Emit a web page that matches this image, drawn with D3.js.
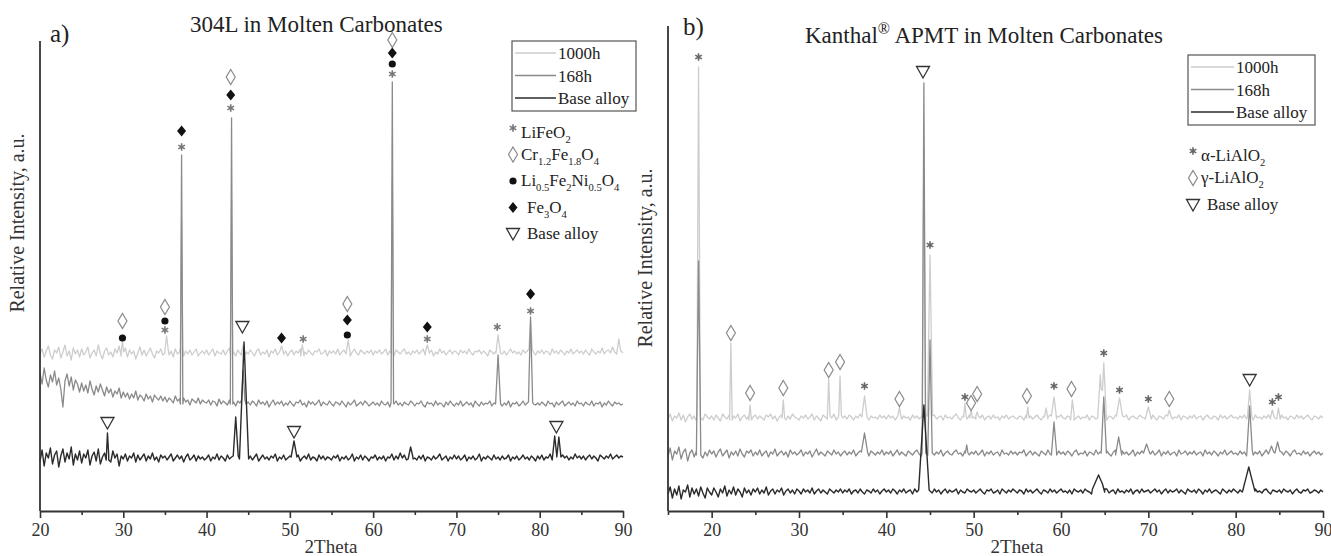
<!DOCTYPE html>
<html><head><meta charset="utf-8">
<script src="https://cdn.jsdelivr.net/npm/d3@7"></script>
<style>body{margin:0;background:#fff}svg{display:block;font-family:"Liberation Serif","Times New Roman",serif}svg text{font-family:"Liberation Serif","Times New Roman",serif !important;fill:#222}</style>
</head><body><svg id="c" width="1331" height="556"></svg>
<script>
// ---------- DATA ----------
const seriesNames = ["1000h", "168h", "Base alloy"];
const xTicksLeft = [20, 30, 40, 50, 60, 70, 80, 90];
const xTicksRight = [20, 30, 40, 50, 60, 70, 80, 90];
const minorLeft = [25, 35, 45, 55, 65, 75, 85];
const minorRight = [15, 25, 35, 45, 55, 65, 75, 85];
const STEP = 0.25;

// baseline readings every 0.25 deg (left: 20..90)
const left1000Base = [157,162,154,160,165,156,152,161,158,164,153,159,166,155,160,151,163,157,161,154,
162,156,159,164,153,158,161,155,166,157,152,160,163,156,159,154,162,158,165,155,
159,163,154,161,157,160,152,158,164,156,161,155,159,163,157,153,160,158,162,156,
158,161,156,160,154,162,157,159,163,155,160,157,161,156,159,162,155,158,160,157,
161,156,159,162,155,160,158,157,161,156,160,163,157,159,155,161,158,160,156,159,
157,161,158,155,160,162,156,159,157,161,154,160,158,162,156,159,161,157,160,155,
159,161,156,160,158,162,155,159,157,161,158,156,160,159,162,157,158,161,155,160,
158,160,157,162,156,159,161,157,160,155,159,162,158,156,161,159,157,160,158,161,
156,160,158,161,157,159,162,156,160,158,155,161,159,157,160,162,157,159,156,160,
158,161,157,159,162,156,160,158,161,155,159,157,162,158,160,156,159,161,157,160,
159,156,161,158,160,157,162,158,156,160,159,161,157,160,158,155,161,159,157,160,
158,161,157,160,156,159,162,158,160,157,159,156,161,158,160,157,162,159,156,160,
158,161,157,160,159,156,162,158,160,157,161,159,156,160,158,162,157,159,161,158,
160,157,161,158,156,162,159,157,160,158,163,157,160,161,158,164,159,157,161,160,158];
const left168Base = [138,127,143,131,124,136,129,140,126,133,122,104,130,137,125,134,121,131,127,119,
128,120,126,118,130,122,116,125,119,127,121,115,124,118,122,114,120,117,123,113,
119,114,118,112,117,113,120,111,116,114,110,117,112,115,109,116,113,111,115,110,
114,109,113,111,108,115,110,112,107,113,109,111,106,112,110,108,113,107,111,109,
108,111,106,110,109,105,112,107,110,108,106,111,107,109,105,110,108,106,111,107,
109,106,110,108,105,111,107,109,106,110,104,108,111,106,109,107,110,105,108,106,
110,107,105,109,108,111,106,108,104,110,107,109,106,108,111,105,109,107,106,110,
107,105,109,108,106,110,107,104,109,106,108,111,105,107,109,106,110,108,105,107,
109,106,108,105,110,107,106,109,104,108,107,110,106,108,105,109,107,106,110,108,
105,108,107,110,106,104,109,107,108,105,110,106,108,107,104,109,106,110,107,105,
108,106,110,105,107,109,106,108,104,110,107,105,109,106,108,107,110,105,108,106,
107,109,105,108,106,110,104,108,107,109,105,107,110,106,108,105,109,107,106,108,
106,109,107,105,110,107,108,104,109,106,108,110,105,107,109,106,108,105,110,107,
108,105,109,107,106,110,105,108,107,109,104,108,106,110,107,105,109,107,108,106,107];
const leftAlloyBase = [50,61,45,58,53,63,47,56,60,44,55,62,49,58,52,64,46,57,51,60,
48,57,53,61,46,55,59,50,62,47,54,58,51,56,49,60,53,57,45,55,
52,57,50,55,53,58,49,56,51,54,57,50,55,52,58,51,54,49,56,53,
55,51,54,57,50,53,56,52,55,49,54,57,51,53,56,50,55,52,54,51,
53,56,50,54,52,57,51,55,53,50,56,52,54,51,55,53,50,56,52,54,
52,55,51,54,57,50,53,56,52,54,51,55,53,57,50,54,52,56,51,53,
55,51,54,52,56,50,53,55,52,57,51,54,53,50,56,52,55,51,54,53,
51,55,53,56,50,54,52,55,51,53,57,50,54,52,56,51,55,53,50,54,
53,56,51,54,52,55,50,54,53,57,51,55,52,58,53,56,51,54,52,55,
53,51,55,52,56,50,54,53,51,55,52,54,57,51,53,55,50,54,52,56,
52,55,51,53,56,50,54,52,55,51,53,57,50,54,52,55,53,51,56,52,
54,51,55,52,53,56,50,54,52,55,51,53,56,52,54,51,55,53,50,55,
52,56,51,54,53,57,51,55,52,54,50,56,53,55,51,54,52,57,53,55,
52,55,51,54,56,52,55,53,50,56,54,52,55,53,57,52,54,56,53,55,54];

// peaks: [2theta, top intensity, half width]
const left1000Peaks = [[29.9,170,0.15],[35.2,175,0.2],[37.0,291,0.15],[43.0,311,0.15],[44.4,166,0.2],[49.0,165,0.15],[51.5,166,0.2],[57.0,171,0.2],[62.3,331,0.15],[66.5,166,0.2],[75.0,176,0.25],[78.9,191,0.2],[89.5,172,0.2]];
const left168Peaks = [[37.0,356,0.15],[43.0,393,0.15],[44.4,141,0.2],[62.3,429,0.15],[75.0,156,0.3],[78.9,194,0.25]];
const leftAlloyPeaks = [[28.1,78,0.15],[43.5,94,0.3],[44.5,169,0.55],[50.5,70,0.35],[64.5,64,0.3],[81.8,75,0.25],[82.3,74,0.25]];

// baseline readings every 0.25 deg (right: 15..90)
const right1000Base = [92,97,90,95,93,98,91,96,89,94,97,92,95,90,96,93,91,97,94,92,
95,91,96,93,90,97,94,92,96,91,95,93,97,90,94,96,92,95,91,94,
96,92,95,93,91,96,94,97,92,95,90,94,96,93,91,95,92,97,94,93,
91,95,93,96,92,94,97,91,95,93,90,96,94,92,95,93,97,91,94,96,
93,95,92,96,94,91,95,93,97,92,94,96,91,95,93,94,92,96,93,95,
92,96,93,95,91,94,96,92,95,93,94,91,96,93,95,92,94,96,93,91,
95,93,96,92,94,95,91,96,93,94,92,95,97,93,91,95,94,92,96,93,
94,92,95,93,96,91,94,95,92,96,93,94,91,95,93,96,92,94,95,93,
92,95,94,91,96,93,95,92,94,96,93,91,95,94,92,96,93,95,92,94,
96,93,92,95,94,91,96,93,95,92,94,93,96,91,95,94,92,95,93,96,
93,91,95,94,92,96,93,95,92,94,96,91,94,95,93,92,96,94,93,95,
92,94,96,93,91,95,94,92,96,93,95,92,94,93,96,91,95,94,92,95,
93,96,92,94,95,91,94,96,93,92,95,94,91,96,93,95,92,94,96,93,
94,92,95,93,96,92,94,95,91,96,93,94,92,95,93,96,92,94,93,95,
92,96,93,94,91,95,94,92,96,93,95,92,94,96,93,91,95,94,92,95,93];
const right168Base = [55,63,51,60,57,64,52,59,62,50,58,61,54,60,56,63,53,59,55,61,
57,60,54,59,62,55,58,61,53,59,56,60,55,62,57,54,60,58,61,55,
59,56,61,55,58,60,54,59,57,62,55,58,60,56,59,54,61,57,59,56,
58,61,55,59,57,60,54,58,62,56,59,57,55,60,58,56,61,57,59,55,
58,60,56,59,57,61,55,58,60,56,59,57,55,60,58,56,59,57,61,56,
59,57,60,55,58,61,56,59,57,55,60,58,56,59,61,57,55,58,60,56,
58,60,56,59,57,61,55,58,60,57,56,59,61,57,58,55,60,58,56,59,
57,60,56,58,61,55,59,57,60,56,58,59,55,61,57,58,56,60,57,59,
56,59,58,61,55,58,60,56,59,57,55,60,58,56,61,57,59,56,58,60,
57,59,56,60,58,55,59,61,56,58,57,60,55,59,58,56,61,57,59,56,
58,60,57,55,59,61,56,58,60,57,59,56,58,61,55,59,57,60,56,58,
59,57,60,56,58,61,55,59,57,60,56,58,59,55,61,57,58,60,56,59,
57,60,56,58,59,55,61,57,59,56,60,58,55,59,57,61,56,58,60,57,
58,56,60,57,59,55,61,58,56,59,57,60,55,58,61,57,59,56,58,60,
57,59,56,60,58,55,59,61,57,58,56,60,57,59,55,58,60,57,59,56,58];
const rightAlloyBase = [17,24,13,22,16,25,12,21,19,26,14,23,17,22,15,24,18,13,23,19,
16,23,19,14,22,18,25,15,21,17,24,16,22,19,14,23,18,21,16,22,
19,23,17,21,18,24,16,20,22,17,21,19,23,16,20,22,18,21,17,22,
20,17,22,19,21,18,23,17,20,22,18,21,19,17,22,20,18,21,19,22,
18,21,19,22,17,20,21,18,22,19,17,21,20,18,22,19,21,17,20,22,
19,21,18,22,20,17,21,19,22,18,20,21,17,22,19,20,18,21,19,22,
20,18,22,19,21,17,20,22,18,21,19,20,22,17,21,19,18,22,20,19,
21,18,20,22,19,17,21,20,22,18,19,21,17,22,20,18,21,19,22,20,
18,21,20,17,22,19,21,18,20,22,19,17,21,20,18,22,19,21,18,20,
22,19,20,18,21,17,22,20,19,21,18,22,20,19,17,21,20,22,18,21,
19,22,18,20,21,17,22,19,20,18,21,19,22,17,20,21,18,22,19,20,
21,18,20,22,19,21,17,20,22,18,21,19,20,22,18,21,19,17,22,20,
19,21,18,22,20,17,21,19,22,18,20,21,19,17,22,20,18,21,19,22,
20,18,21,19,22,17,20,21,18,22,19,20,18,21,22,19,17,21,20,19,
21,18,22,20,19,21,17,20,22,19,18,21,20,22,18,19,21,20,18,21,19];

const right1000Peaks = [[18.5,444,0.2],[22.2,168,0.15],[24.4,106,0.15],[28.2,111,0.15],[33.4,132,0.15],[34.7,135,0.15],[37.5,115,0.3],[41.5,104,0.15],[44.3,361,0.2],[45.0,256,0.3],[49.0,108,0.15],[49.7,101,0.15],[50.4,99,0.15],[56.2,104,0.15],[58.3,103,0.2],[59.2,114,0.3],[61.3,111,0.2],[64.5,136,0.3],[64.9,148,0.3],[66.7,113,0.35],[70.0,104,0.35],[72.4,101,0.2],[81.6,121,0.25],[84.2,101,0.2],[84.9,103,0.2]];
const right168Peaks = [[18.5,250,0.25],[37.5,78,0.35],[44.3,428,0.2],[45.0,171,0.25],[49.2,66,0.15],[59.2,89,0.3],[64.9,114,0.3],[66.6,74,0.35],[69.8,67,0.35],[81.6,105,0.3],[84.1,65,0.25],[84.8,69,0.25]];
const rightAlloyPeaks = [[44.3,106,0.6],[64.3,36,0.7],[81.5,44,0.7]];

// phase markers: [2theta, intensity, type]
const leftMarkers = [[29.9,190,"dia"],[29.9,173,"dot"],[35.0,204,"dia"],[35.0,190,"dot"],[35.0,181,"ast"],
[37.0,380,"fdia"],[37.0,364,"ast"],[42.9,434,"dia"],[42.9,416,"fdia"],[42.9,403,"ast"],[44.3,184,"tri"],
[49.0,173,"fdia"],[51.6,172,"ast"],[56.9,207,"dia"],[56.9,191,"fdia"],[56.9,176,"dot"],
[62.3,471,"dia"],[62.3,458,"fdia"],[62.3,447,"dot"],[62.3,437,"ast"],[66.5,184,"fdia"],[66.5,172,"ast"],
[74.9,184,"ast"],[78.9,217,"fdia"],[78.9,200,"ast"],[28.1,88,"tri"],[50.5,79,"tri"],[82.0,84,"tri"]];
const rightMarkers = [[18.5,454,"ast"],[22.2,178,"dia"],[24.4,118,"dia"],[28.2,123,"dia"],[33.4,141,"dia"],[34.7,149,"dia"],
[37.5,125,"ast"],[41.5,112,"dia"],[44.2,439,"tri"],[45.0,266,"ast"],[49.0,114,"ast"],[49.7,108,"dia"],[50.4,117,"dia"],
[56.1,115,"dia"],[59.2,125,"ast"],[61.2,122,"dia"],[64.9,158,"ast"],[66.7,121,"ast"],[70.0,112,"ast"],[72.4,112,"dia"],
[81.6,131,"tri"],[84.2,109,"ast"],[84.9,114,"ast"]];

const leftPhaseLegend = [["ast", [["LiFeO","n"],["2","sub"]]],["dia",[["Cr","n"],["1.2","sub"],["Fe","n"],["1.8","sub"],["O","n"],["4","sub"]]],
["dot",[["Li","n"],["0.5","sub"],["Fe","n"],["2","sub"],["Ni","n"],["0.5","sub"],["O","n"],["4","sub"]]],
["fdia",[["Fe","n"],["3","sub"],["O","n"],["4","sub"]]],["tri",[["Base alloy","n"]]]];
const rightPhaseLegend = [["ast",[["α-LiAlO","n"],["2","sub"]]],["dia",[["γ-LiAlO","n"],["2","sub"]]],["tri",[["Base alloy","n"]]]];

// ---------- DRAW ----------
const FONT = '"Liberation Serif","Times New Roman",serif';
const svg = d3.select("#c");
const colors = ["#cdcdcd", "#8a8a8a", "#2b2b2b"];

function buildSeries(start, base, peaks) {
  const pts = base.map((v, i) => [start + i * STEP, v]);
  const footOf = p => base[Math.max(0, Math.min(base.length - 1, Math.round((p[0] - start) / STEP)))];
  peaks.forEach(p => {
    const f = footOf(p);
    pts.push([p[0] - p[2], f], [p[0], p[1]], [p[0] + p[2], f]);
  });
  pts.sort((a, b) => a[0] - b[0]);
  return pts.map(([x, v]) => {
    let y = v;
    peaks.forEach(p => {
      const d = Math.abs(x - p[0]);
      if (d < p[2] - 1e-9) { const f = footOf(p); y = Math.max(y, f + (p[1] - f) * (1 - d / p[2])); }
      else if (d < 1e-9) y = Math.max(y, p[1]);
    });
    return [x, y];
  });
}

function txt(g) { return g.append("text").style("font-family", FONT); }

function richText(g, x, y, segs, size) {
  const t = txt(g).attr("x", x).attr("y", y).attr("font-size", size);
  let shift = 0;
  segs.forEach(([s, k]) => {
    const target = k === "sub" ? size * 0.3 : k === "sup" ? -size * 0.4 : 0;
    t.append("tspan").attr("dy", target - shift).attr("font-size", k === "n" ? size : size * 0.62).text(s);
    shift = target;
  });
  return t;
}

function marker(g, type, cx, cy, color) {
  if (type === "dia") {
    g.append("path").attr("d", `M${cx},${cy-7.5}L${cx+4.5},${cy}L${cx},${cy+7.5}L${cx-4.5},${cy}Z`).attr("fill", "#fff").attr("stroke", color || "#888").attr("stroke-width", 1.2);
  } else if (type === "fdia") {
    g.append("path").attr("d", `M${cx},${cy-5.5}L${cx+4.5},${cy}L${cx},${cy+5.5}L${cx-4.5},${cy}Z`).attr("fill", "#111");
  } else if (type === "dot") {
    g.append("circle").attr("cx", cx).attr("cy", cy).attr("r", 3.6).attr("fill", "#111");
  } else if (type === "tri") {
    g.append("path").attr("d", `M${cx-6.5},${cy-5.5}L${cx+6.5},${cy-5.5}L${cx},${cy+6}Z`).attr("fill", "#fff").attr("stroke", "#333").attr("stroke-width", 1.3);
  } else if (type === "ast") {
    const r = 3.8; let d = "";
    for (let a = 0; a < 3; a++) { const an = Math.PI / 2 + a * Math.PI / 3; d += `M${cx + r*Math.cos(an)},${cy + r*Math.sin(an)}L${cx - r*Math.cos(an)},${cy - r*Math.sin(an)}`; }
    g.append("path").attr("d", d).attr("stroke", color || "#777").attr("stroke-width", 1.6);
  }
}

function panel(cfg) {
  const g = svg.append("g");
  const x = d3.scaleLinear().domain(cfg.xDomain).range(cfg.xRange);
  const y = d3.scaleLinear().domain(cfg.yDomain).range(cfg.yRange);
  const line = d3.line().x(d => x(d[0])).y(d => y(d[1]));
  cfg.series.forEach((s, i) => {
    g.append("path").datum(buildSeries(cfg.xStart, s.base, s.peaks)).attr("d", line)
      .attr("fill", "none").attr("stroke", colors[i]).attr("stroke-width", i === 2 ? 1.4 : 1.3).attr("stroke-linejoin", "round");
  });
  // axes
  const ax = g.append("g").attr("transform", `translate(0,${cfg.yRange[0]})`);
  ax.call(d3.axisBottom(x).tickValues(cfg.ticks).tickSize(7).tickSizeOuter(0).tickFormat(d3.format("d")));
  const mx = g.append("g").attr("transform", `translate(0,${cfg.yRange[0]})`);
  mx.call(d3.axisBottom(x).tickValues(cfg.minor).tickSize(4).tickSizeOuter(0).tickFormat(""));
  mx.select(".domain").remove();
  [ax, mx].forEach(a => { a.attr("font-family", FONT); a.selectAll("line").attr("stroke", "#333").attr("stroke-width", 1.6); });
  ax.select(".domain").attr("stroke", "#333").attr("stroke-width", 1.8);
  ax.selectAll("text").attr("font-size", 18).style("fill", "#333").attr("dy", "0.85em").style("font-family", FONT);
  g.append("line").attr("x1", cfg.xRange[0]).attr("x2", cfg.xRange[0]).attr("y1", cfg.yRange[1]).attr("y2", cfg.yRange[0]).attr("stroke", "#333").attr("stroke-width", 1.8);
  txt(g).attr("x", cfg.xlabX).attr("y", 553).attr("text-anchor", "middle").attr("font-size", 19).style("fill", "#333").text("2Theta");
  txt(g).attr("transform", `translate(${cfg.ylabX},${cfg.ylabY}) rotate(-90)`).attr("text-anchor", "middle").attr("font-size", 20).style("fill", "#333").text("Relative Intensity, a.u.");
  // markers
  cfg.markers.forEach(m => marker(g, m[2], x(m[0]), y(m[1]), cfg.markColors[m[2]]));
  // legend box
  const L = cfg.legend;
  g.append("rect").attr("x", L.x).attr("y", L.y).attr("width", L.w).attr("height", L.h).attr("fill", "#fff").attr("stroke", "#555").attr("stroke-width", 1.2);
  seriesNames.forEach((n, i) => {
    const ly = L.y + 12 + i * 22.5;
    g.append("line").attr("x1", L.x + 3).attr("x2", L.x + 3 + L.lineW).attr("y1", ly).attr("y2", ly).attr("stroke", colors[i]).attr("stroke-width", 1.6);
    txt(g).attr("x", L.x + 5 + L.lineW).attr("y", ly + 6).attr("font-size", 17).text(n);
  });
  // phase legend
  cfg.phase.forEach((p, i) => {
    const py = cfg.phaseY + i * cfg.phaseStep;
    marker(g, p[0], cfg.phaseX, py - 5, cfg.markColors[p[0]]);
    richText(g, cfg.phaseX + (p[0] === "fdia" || p[0] === "tri" ? 14 : 8), py + (p[0] === "ast" ? 5 : 0), p[1], 17);
  });
  txt(g).attr("x", cfg.tagX).attr("y", cfg.tagY).attr("font-size", 25).text(cfg.tag);
  return g;
}

panel({
  xDomain: [20, 90], xRange: [40, 623], yDomain: [0, 470], yRange: [511, 41], xStart: 20,
  ticks: xTicksLeft, minor: minorLeft,
  series: [{base: left1000Base, peaks: left1000Peaks}, {base: left168Base, peaks: left168Peaks}, {base: leftAlloyBase, peaks: leftAlloyPeaks}],
  markers: leftMarkers, markColors: {dia: "#8a8a8a", ast: "#777"},
  legend: {x: 512, y: 41, w: 124, h: 70, lineW: 41},
  phase: leftPhaseLegend, phaseX: 513, phaseY: 133, phaseStep: 26.5,
  xlabX: 331, ylabX: 24, ylabY: 223, tag: "a)", tagX: 50, tagY: 42
});
txt(svg).attr("x", 190).attr("y", 32).attr("font-size", 23).text("304L in Molten Carbonates");

panel({
  xDomain: [15, 90], xRange: [668, 1323], yDomain: [0, 485], yRange: [511, 26], xStart: 15,
  ticks: xTicksRight, minor: minorRight,
  series: [{base: right1000Base, peaks: right1000Peaks}, {base: right168Base, peaks: right168Peaks}, {base: rightAlloyBase, peaks: rightAlloyPeaks}],
  markers: rightMarkers, markColors: {dia: "#8a8a8a", ast: "#666"},
  legend: {x: 1188, y: 55, w: 127, h: 70, lineW: 43},
  phase: rightPhaseLegend, phaseX: 1193, phaseY: 156, phaseStep: 27,
  xlabX: 1017, ylabX: 652, ylabY: 258, tag: "b)", tagX: 683, tagY: 35
});
const rt = txt(svg).attr("x", 805).attr("y", 43).attr("font-size", 23);
rt.append("tspan").text("Kanthal");
rt.append("tspan").attr("dy", -9).attr("font-size", 16).text("®");
rt.append("tspan").attr("dy", 9).text(" APMT in Molten Carbonates");
</script></body></html>
